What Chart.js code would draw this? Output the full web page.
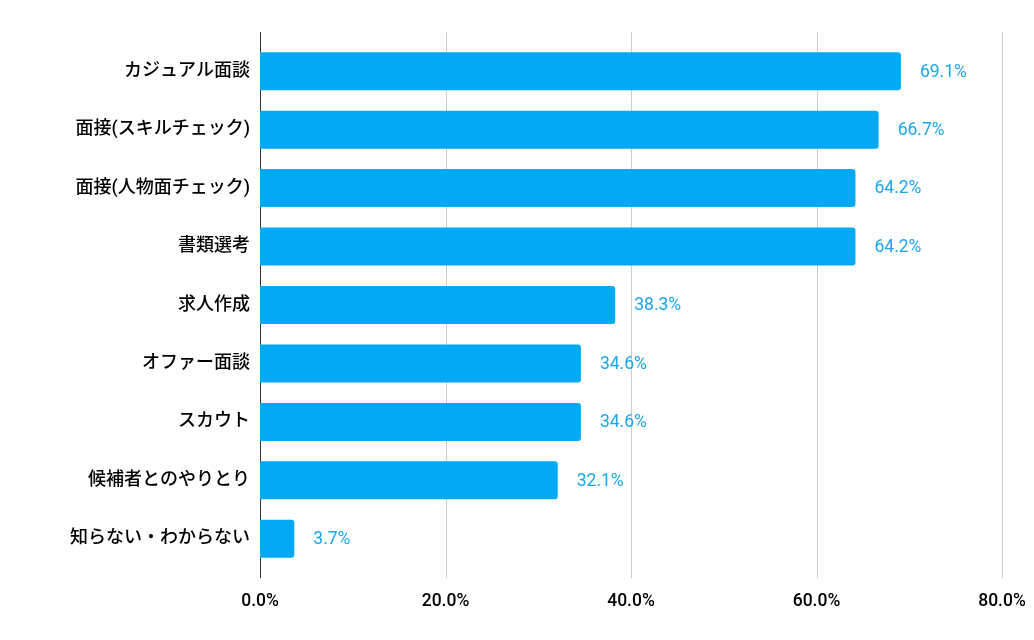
<!DOCTYPE html>
<html lang="ja">
<head>
    <meta charset="UTF-8">
    <title>採用業務</title>
    <script src="https://cdn.jsdelivr.net/npm/chart.js"></script>
    <style>
        html, body {
            margin: 0;
            padding: 0;
            background: #fff;
            overflow: hidden;
        }
        canvas {
            display: block;
        }
    </style>
</head>
<body>
    <canvas id="grafico" width="1034" height="640"></canvas>

    <script>
        // データ
        const categorias = [
            'カジュアル面談',
            '面接(スキルチェック)',
            '面接(人物面チェック)',
            '書類選考',
            '求人作成',
            'オファー面談',
            'スカウト',
            '候補者とのやりとり',
            '知らない・わからない'
        ];
        const porcentagens = [69.1, 66.7, 64.2, 64.2, 38.3, 34.6, 34.6, 32.1, 3.7];
        const ticksX = [0, 20, 40, 60, 80];

        const azul = '#03A9F4';

        // linhas verticais (um pouco além da área do gráfico)
        const linhasGrade = {
            id: 'linhasGrade',
            beforeDatasetsDraw(chart) {
                const { ctx, chartArea, scales } = chart;
                ctx.save();
                ctx.lineWidth = 1;
                ticksX.forEach(v => {
                    const x = Math.round(scales.x.getPixelForValue(v)) + 0.5;
                    ctx.strokeStyle = v === 0 ? '#333333' : '#cccccc';
                    ctx.beginPath();
                    ctx.moveTo(x, chartArea.top - 10);
                    ctx.lineTo(x, chartArea.bottom + 10);
                    ctx.stroke();
                });
                ctx.restore();
            }
        };

        // rótulos de valor
        const rotulos = {
            id: 'rotulos',
            afterDatasetsDraw(chart) {
                const { ctx } = chart;
                const meta = chart.getDatasetMeta(0);
                ctx.save();
                ctx.font = '17.5px Roboto';
                ctx.fillStyle = '#1AA7EE';
                ctx.textAlign = 'left';
                ctx.textBaseline = 'middle';
                meta.data.forEach((barra, i) => {
                    ctx.fillText(porcentagens[i].toFixed(1) + '%', barra.x + 19, barra.y + 1);
                });
                ctx.restore();
            }
        };

        const ctx = document.getElementById('grafico').getContext('2d');
        new Chart(ctx, {
            type: 'bar',
            data: {
                labels: categorias,
                datasets: [{
                    data: porcentagens,
                    backgroundColor: azul,
                    borderRadius: 3,
                    borderSkipped: 'start',
                    categoryPercentage: 1,
                    barPercentage: 0.65
                }]
            },
            options: {
                indexAxis: 'y',
                responsive: false,
                animation: false,
                layout: {
                    padding: { top: 42, right: 32, bottom: 5, left: 0 }
                },
                plugins: {
                    legend: { display: false },
                    tooltip: { enabled: false }
                },
                scales: {
                    x: {
                        min: 0,
                        max: 80,
                        afterBuildTicks(scale) {
                            scale.ticks = ticksX.map(v => ({ value: v }));
                        },
                        afterFit(scale) {
                            // o padding dos rótulos não deve empurrar a área do gráfico
                            scale.paddingLeft = 0;
                            scale.paddingRight = 0;
                        },
                        grid: { display: false, drawTicks: false },
                        border: { display: false },
                        ticks: {
                            padding: 23,
                            color: '#000',
                            font: { family: 'Roboto', size: 17.5, weight: '500' },
                            callback: v => v.toFixed(1) + '%'
                        }
                    },
                    y: {
                        afterFit(scale) {
                            scale.width = 260;
                        },
                        grid: { display: false, drawTicks: false },
                        border: { display: false },
                        ticks: {
                            padding: 10,
                            color: '#000',
                            font: { family: "Roboto, 'Noto Sans CJK JP'", size: 18, weight: '500' }
                        }
                    }
                }
            },
            plugins: [linhasGrade, rotulos]
        });
    </script>
</body>
</html>
